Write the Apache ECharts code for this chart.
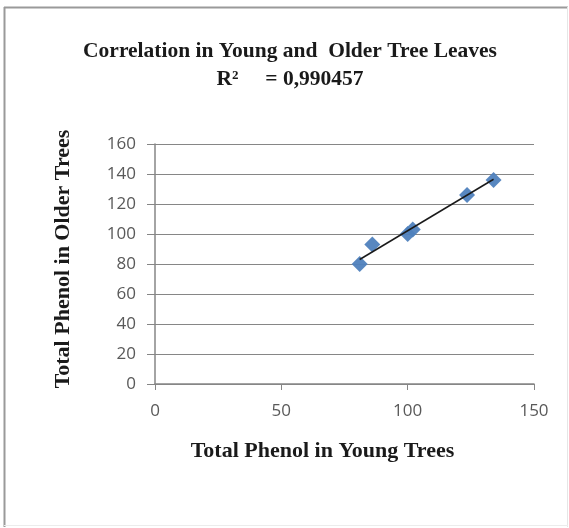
<!DOCTYPE html>
<html>
<head>
<meta charset="utf-8">
<script src="https://cdn.jsdelivr.net/npm/echarts@6/dist/echarts.min.js"></script>
<style>
html,body{margin:0;padding:0;background:#fff;}
#c{width:569px;height:528px;}
</style>
</head>
<body>
<div id="c"></div>
<script>
var youngTrees = [81, 86, 100, 102, 123.5, 134];
var olderTrees = [80, 93, 100, 103, 126, 136];
var trendX = [81, 134];
var trendY = [83, 136.5];
var xTicks = [0, 50, 100, 150];
var yTicks = [0, 20, 40, 60, 80, 100, 120, 140, 160];

var points = youngTrees.map(function (x, i) { return [x, olderTrees[i]]; });
var trend = trendX.map(function (x, i) { return [x, trendY[i]]; });

var chart = echarts.init(document.getElementById('c'), null, {renderer: 'canvas'});
var axisLabelStyle = {color: '#595959', fontFamily: 'Open Sans', fontSize: 17};
var titleStyle = {fontFamily: 'Liberation Serif', fontSize: 21.5, fontWeight: 'bold', color: '#1a1a1a'};
chart.setOption({
  animation: false,
  backgroundColor: '#fff',
  title: [
    {text: 'Correlation in Young and  Older Tree Leaves', left: 290, textAlign: 'center', top: 40, padding: 0,
     textStyle: titleStyle},
    {text: 'R\u00b2     = 0,990457', left: 290, textAlign: 'center', top: 68, padding: 0,
     textStyle: titleStyle}
  ],
  graphic: [
    {type: 'line', shape: {x1: 4.5, y1: 7, x2: 4.5, y2: 527}, style: {stroke: '#9a9a9a', lineWidth: 2}},
    {type: 'line', shape: {x1: 4, y1: 7.5, x2: 568, y2: 7.5}, style: {stroke: '#9a9a9a', lineWidth: 2}},
    {type: 'line', shape: {x1: 567.5, y1: 7, x2: 567.5, y2: 527}, style: {stroke: '#e6e6e6', lineWidth: 1}},
    {type: 'line', shape: {x1: 4, y1: 525.5, x2: 568, y2: 525.5}, style: {stroke: '#ececec', lineWidth: 1}}
  ],
  grid: {left: 155, right: 35, top: 144, bottom: 144, containLabel: false},
  xAxis: {
    type: 'value', min: xTicks[0], max: xTicks[xTicks.length - 1], interval: 50,
    name: 'Total Phenol in Young Trees', nameLocation: 'middle', nameGap: 56,
    nameTextStyle: {color: '#1a1a1a', fontFamily: 'Liberation Serif', fontSize: 22, fontWeight: 'bold',
                    padding: [0, 44, 0, 0]},
    axisLine: {show: true, onZero: false, lineStyle: {color: '#868686', width: 1.5}},
    axisTick: {show: true, inside: false, length: 6, lineStyle: {color: '#868686'}},
    axisLabel: Object.assign({margin: 19}, axisLabelStyle),
    splitLine: {show: false}
  },
  yAxis: {
    type: 'value', min: yTicks[0], max: yTicks[yTicks.length - 1], interval: 20,
    name: 'Total Phenol in Older Trees', nameLocation: 'middle', nameGap: 81,
    nameTextStyle: {color: '#1a1a1a', fontFamily: 'Liberation Serif', fontSize: 22, fontWeight: 'bold',
                    padding: [0, 0, 0, 10]},
    axisLine: {show: true, onZero: false, lineStyle: {color: '#868686', width: 1.5}},
    axisTick: {show: true, inside: false, length: 8, lineStyle: {color: '#868686'}},
    axisLabel: Object.assign({margin: 19}, axisLabelStyle),
    splitLine: {show: true, lineStyle: {color: '#868686', width: 1.2}}
  },
  series: [
    {
      type: 'line', data: trend, symbol: 'none', silent: true, z: 3,
      lineStyle: {color: '#1a1a1a', width: 1.5}
    },
    {
      type: 'scatter', data: points, symbol: 'diamond', symbolSize: [16, 16], z: 2,
      itemStyle: {color: '#4F81BD', opacity: 0.95}
    }
  ]
});
</script>
</body>
</html>
